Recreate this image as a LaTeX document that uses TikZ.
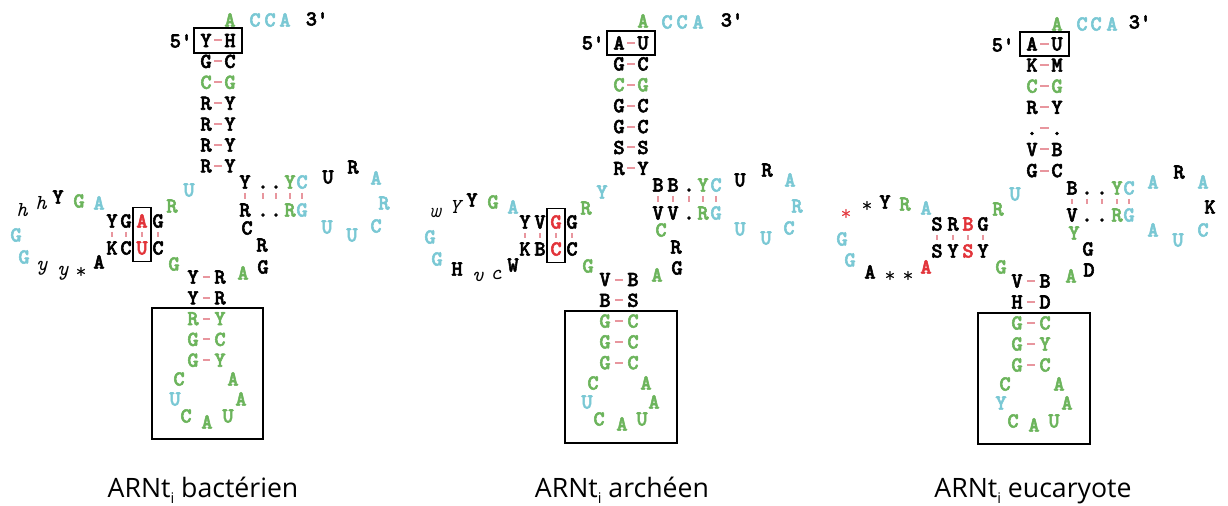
\documentclass[tikz,border=0pt]{standalone}
\usepackage{fontspec}
\usepackage{tikz}
\usetikzlibrary{fit}
\newfontfamily\titlefont{Open Sans}
\newfontfamily\ntbold{lmmonolt10-bold.otf}[FakeBold=2.5]
\definecolor{ntgreen}{RGB}{108,180,92}
\definecolor{ntcyan}{RGB}{122,200,212}
\definecolor{ntred}{RGB}{226,52,58}
\definecolor{pairpink}{RGB}{232,150,158}
\newcommand{\ntfont}{\ntbold\fontsize{16}{16}\selectfont}
\newcommand{\ntitfont}{\fontsize{16}{16}\selectfont\ttfamily\itshape}
\newcommand{\ntstarfont}{\fontsize{16}{16}\selectfont\ttfamily}
\tikzset{
  nt/.style={font=\ntfont, inner sep=0pt, text height=9.8pt, text depth=0pt},
  ntit/.style={font=\ntitfont, inner sep=0pt},
  ntstar/.style={font=\ntstarfont, inner sep=0pt},
  pair/.style={draw=pairpink, line width=1.5pt, shorten >=1.8pt, shorten <=1.8pt},
  widepair/.style={pair, shorten >=3pt, shorten <=3pt},
  pairtick/.style={draw=pairpink, line width=1pt, shorten >=3pt, shorten <=3pt},
  boxline/.style={draw=black, line width=1.4pt},
  arntlabel/.style={font=\titlefont\fontsize{20}{24}\selectfont, anchor=base, inner sep=0pt}
}
\newcommand{\subi}{\raisebox{-5pt}{\fontsize{11}{11}\selectfont i}}

\begin{document}
\begin{tikzpicture}[x=0.75pt,y=0.75pt,yscale=-1,xscale=1]
  \useasboundingbox (0,0) rectangle (1228,506);

  %%%%%%%%%%%%%%%% ARNt bacterien
  % acceptor stem
  \foreach \l/\r/\c [count=\i] in {Y/H/black,G/C/black,C/G/ntgreen,R/Y/black,R/Y/black,R/Y/black,R/Y/black}{
    \node[nt,text=\c] (bacL\i) at (206,{40.5+20.9*(\i-1)}) {\l};
    \node[nt,text=\c] (bacR\i) at (230,{40.5+20.9*(\i-1)}) {\r};
    \draw[pair] (bacL\i) -- (bacR\i);
  }
  \node[boxline, fit=(bacL1)(bacR1), inner xsep=4.5pt, inner ysep=4pt] (bacBoxA) {};
  % single bases
  \foreach \x/\y/\c/\t [count=\i] in {230/20/ntgreen/A, 255/20/ntcyan/C, 270/20/ntcyan/C, 285/20/ntcyan/A,
      317/19/black/3\textquotesingle, 181/41/black/5\textquotesingle,
      189/190/ntcyan/U, 172/206/ntgreen/R, 99/203/ntcyan/A, 79/201/ntgreen/G, 58/197/black/Y,
      16/235/ntcyan/G, 24/257/ntcyan/G, 99/262/black/A, 174/264/ntgreen/G,
      247/228/black/C, 262/245/black/R, 263/267/black/G, 243/273/ntgreen/A,
      328/177/black/U, 353/167/black/R, 376/178/ntcyan/A, 384/203/ntcyan/R, 376/226/ntcyan/C, 352/235/ntcyan/U, 327/227/ntcyan/U,
      179/379/ntgreen/C, 233/379/ntgreen/A, 175/399/ntcyan/U, 241/399/ntgreen/A, 186/416/ntgreen/C, 207/422/ntgreen/A, 228/416/ntgreen/U}{
    \node[nt,text=\c] (bac\i) at (\x,\y) {\t};
  }
  \foreach \x/\y/\t [count=\i] in {41/203/h, 22/210/h, 42/268/y, 63/273/y}{
    \node[ntit] (bacIt\i) at (\x,\y) {\t};
  }
  \node[ntstar] (bacStar1) at (81,273) {*};
  % D stem
  \foreach \x/\t/\u/\c [count=\i] in {112/Y/K/black, 126/G/C/black, 142/A/U/ntred, 158/G/C/black}{
    \node[nt,text=\c] (bacDt\i) at (\x,221) {\t};
    \node[nt,text=\c] (bacDb\i) at (\x,248) {\u};
    \draw[pairtick] (bacDt\i) -- (bacDb\i);
  }
  \node[boxline, fit=(bacDt3)(bacDb3), inner xsep=2.6pt, inner ysep=5pt] (bacBoxD) {};
  % T stem
  \foreach \x/\t/\u/\c [count=\i] in {245/Y/R/black, 263/././black, 276/././black, 290/Y/R/ntgreen, 302/C/G/ntcyan}{
    \node[nt,text=\c] (bacTt\i) at (\x,182) {\t};
    \node[nt,text=\c] (bacTb\i) at (\x,210) {\u};
    \draw[pairtick] (bacTt\i) -- (bacTb\i);
  }
  % anticodon stem
  \foreach \l/\r/\c [count=\i] in {Y/R/black,Y/R/black,R/Y/ntgreen,G/C/ntgreen,G/Y/ntgreen}{
    \node[nt,text=\c] (bacAL\i) at (193,{277+20.8*(\i-1)}) {\l};
    \node[nt,text=\c] (bacAR\i) at (220,{277+20.8*(\i-1)}) {\r};
    \draw[widepair] (bacAL\i) -- (bacAR\i);
  }
  \draw[boxline] (152,308) rectangle (263,439);
  % Text Node
  \node[arntlabel] (bacTitle) at (203,497) {ARNt\subi{} bactérien};

  %%%%%%%%%%%%%%%% ARNt archeen
  % acceptor stem
  \foreach \l/\r/\c [count=\i] in {A/U/black,G/C/black,C/G/ntgreen,G/C/black,G/C/black,S/S/black,R/Y/black}{
    \node[nt,text=\c] (arcL\i) at (619,{43+20.9*(\i-1)}) {\l};
    \node[nt,text=\c] (arcR\i) at (643,{43+20.9*(\i-1)}) {\r};
    \draw[pair] (arcL\i) -- (arcR\i);
  }
  \node[boxline, fit=(arcL1)(arcR1), inner xsep=4.5pt, inner ysep=4pt] (arcBoxA) {};
  % single bases
  \foreach \x/\y/\c/\t [count=\i] in {643/21/ntgreen/A, 667/22/ntcyan/C, 682/22/ntcyan/C, 698/22/ntcyan/A,
      732/20/black/3\textquotesingle, 593/43/black/5\textquotesingle,
      602/192/ntcyan/Y, 586/208/ntgreen/R, 513/207/ntcyan/A, 493/202/ntgreen/G, 472/200/black/Y,
      430/237/ntcyan/G, 437/259/ntcyan/G, 457/269/black/H, 513/265/black/W, 588/266/ntgreen/G,
      661/230/ntgreen/C, 676/247/black/R, 677/268/black/G, 657/275/ntgreen/A,
      740/180/black/U, 767/170/black/R, 790/180/ntcyan/A, 797/206/ntcyan/R, 789/228/ntcyan/C, 766/238/ntcyan/U, 740/229/ntcyan/U,
      593/383/ntgreen/C, 646/383/ntgreen/A, 587/402/ntcyan/U, 654/402/ntgreen/A, 599/419/ntgreen/C, 622/424/ntgreen/A, 642/419/ntgreen/U}{
    \node[nt,text=\c] (arc\i) at (\x,\y) {\t};
  }
  \foreach \x/\y/\t [count=\i] in {435/213/w, 455/207/Y, 478/277/v, 496/275/c}{
    \node[ntit] (arcIt\i) at (\x,\y) {\t};
  }
  % D stem
  \foreach \x/\t/\u/\c [count=\i] in {525/Y/K/black, 540/V/B/black, 556/G/C/ntred, 572/G/C/black}{
    \node[nt,text=\c] (arcDt\i) at (\x,222) {\t};
    \node[nt,text=\c] (arcDb\i) at (\x,249) {\u};
    \draw[pairtick] (arcDt\i) -- (arcDb\i);
  }
  \node[boxline, fit=(arcDt3)(arcDb3), inner xsep=2.6pt, inner ysep=5pt] (arcBoxD) {};
  % T stem
  \foreach \x/\t/\u/\c [count=\i] in {658/B/V/black, 673/B/V/black, 689/././black, 703/Y/R/ntgreen, 716/C/G/ntcyan}{
    \node[nt,text=\c] (arcTt\i) at (\x,185) {\t};
    \node[nt,text=\c] (arcTb\i) at (\x,213) {\u};
    \draw[pairtick] (arcTt\i) -- (arcTb\i);
  }
  % anticodon stem
  \foreach \l/\r/\c [count=\i] in {V/B/black,B/S/black,G/C/ntgreen,G/C/ntgreen,G/C/ntgreen}{
    \node[nt,text=\c] (arcAL\i) at (605,{279.5+20.8*(\i-1)}) {\l};
    \node[nt,text=\c] (arcAR\i) at (633,{279.5+20.8*(\i-1)}) {\r};
    \draw[widepair] (arcAL\i) -- (arcAR\i);
  }
  \draw[boxline] (565,311) rectangle (677,443);
  % Text Node
  \node[arntlabel] (arcTitle) at (622,497) {ARNt\subi{} archéen};

  %%%%%%%%%%%%%%%% ARNt eucaryote
  % acceptor stem
  \foreach \l/\r/\c [count=\i] in {A/U/black,K/M/black,C/G/ntgreen,R/Y/black,././black,V/B/black,G/C/black}{
    \node[nt,text=\c] (eucL\i) at (1032,{44+21.1*(\i-1)}) {\l};
    \node[nt,text=\c] (eucR\i) at (1057,{44+21.1*(\i-1)}) {\r};
    \draw[pair] (eucL\i) -- (eucR\i);
  }
  \node[boxline, fit=(eucL1)(eucR1), inner xsep=4.5pt, inner ysep=4pt] (eucBoxA) {};
  % single bases
  \foreach \x/\y/\c/\t [count=\i] in {1057/24/ntgreen/A, 1082/24/ntcyan/C, 1096/24/ntcyan/C, 1112/24/ntcyan/A,
      1140/22/black/3\textquotesingle, 1003/45/black/5\textquotesingle,
      1015/194/ntcyan/U, 998/209/ntgreen/R, 926/208/ntcyan/A, 905/204/ntgreen/R, 885/202/black/Y,
      842/239/ntcyan/G, 850/260/ntcyan/G, 870/272/black/A, 926/267/ntred/A, 1001/267/ntgreen/G,
      1074/233/ntgreen/Y, 1088/249/black/G, 1089/270/black/D, 1071/276/ntgreen/A,
      1153/182/ntcyan/A, 1179/172/black/R, 1203/182/ntcyan/A, 1210/207/black/K, 1203/230/ntcyan/C, 1178/240/ntcyan/U, 1153/230/ntcyan/A,
      1005/384/ntgreen/C, 1059/384/ntgreen/A, 1001/403/ntcyan/Y, 1067/403/ntgreen/A, 1013/421/ntgreen/C, 1034/425/ntgreen/A, 1054/421/ntgreen/U}{
    \node[nt,text=\c] (euc\i) at (\x,\y) {\t};
  }
  \foreach \x/\y/\c [count=\i] in {867/207/black, 846/215/ntred, 890/277/black, 908/277/black}{
    \node[ntstar,text=\c] (eucStar\i) at (\x,\y) {*};
  }
  % D stem
  \foreach \x/\t/\u/\c [count=\i] in {937/S/S/black, 953/R/Y/black, 968/B/S/ntred, 983/G/Y/black}{
    \node[nt,text=\c] (eucDt\i) at (\x,224) {\t};
    \node[nt,text=\c] (eucDb\i) at (\x,251) {\u};
    \draw[pairtick] (eucDt\i) -- (eucDb\i);
  }
  % T stem
  \foreach \x/\t/\u/\c [count=\i] in {1072/B/V/black, 1087/././black, 1102/././black, 1117/Y/R/ntgreen, 1129/C/G/ntcyan}{
    \node[nt,text=\c] (eucTt\i) at (\x,188) {\t};
    \node[nt,text=\c] (eucTb\i) at (\x,215) {\u};
    \draw[pairtick] (eucTt\i) -- (eucTb\i);
  }
  % anticodon stem
  \foreach \l/\r/\c [count=\i] in {V/B/black,H/D/black,G/C/ntgreen,G/Y/ntgreen,G/C/ntgreen}{
    \node[nt,text=\c] (eucAL\i) at (1017,{281+21*(\i-1)}) {\l};
    \node[nt,text=\c] (eucAR\i) at (1045,{281+21*(\i-1)}) {\r};
    \draw[widepair] (eucAL\i) -- (eucAR\i);
  }
  \draw[boxline] (978,313) rectangle (1090,444);
  % Text Node
  \node[arntlabel] (eucTitle) at (1033,497) {ARNt\subi{} eucaryote};

\end{tikzpicture}
\end{document}
